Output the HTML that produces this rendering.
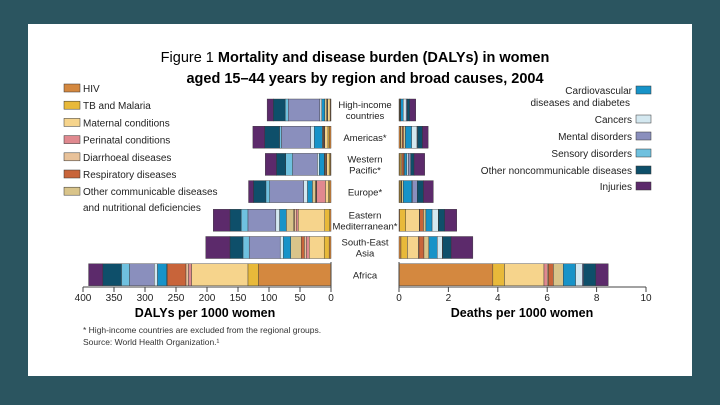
<!DOCTYPE html><html><head><meta charset="utf-8"><style>
body{margin:0;background:#2b5560;width:720px;height:405px;overflow:hidden;font-family:"Liberation Sans",sans-serif}
svg{position:absolute;left:0;top:0}
</style></head><body>
<svg width="720" height="405">
<rect x="28" y="24" width="664" height="352" fill="#fff"/>
<text x="355" y="62" text-anchor="middle" font-size="14.5" font-family="Liberation Sans">Figure 1 <tspan font-weight="bold">Mortality and disease burden (DALYs) in women</tspan></text>
<text x="365" y="83" text-anchor="middle" font-size="14.5" font-weight="bold">aged 15–44 years by region and broad causes, 2004</text>
<g id="leg"></g><g id="bars"></g><g id="axes"></g>
<text x="205" y="317" text-anchor="middle" font-size="12.5" font-weight="bold">DALYs per 1000 women</text>
<text x="522" y="317" text-anchor="middle" font-size="12.5" font-weight="bold">Deaths per 1000 women</text>
<text x="83" y="333" font-size="8.5" fill="#333">* High-income countries are excluded from the regional groups.</text>
<text x="83" y="345" font-size="8.5" fill="#333">Source: World Health Organization.¹</text>
</svg>
<script>
const causes=["HIV","TB and Malaria","Maternal conditions","Perinatal conditions","Diarrhoeal diseases","Respiratory diseases","Other communicable diseases","Cardiovascular diseases and diabetes","Cancers","Mental disorders","Sensory disorders","Other noncommunicable diseases","Injuries"];
const colors=["#d4883f","#e8b93a","#f6d48c","#e0898f","#e8c29a","#c8643a","#d9c48a","#1793c8","#d4e8f0","#8a8fbd","#6fc1df","#0e4f6a","#5c2a6b"];
const regions=[["High-income","countries"],["Americas*"],["Western","Pacific*"],["Europe*"],["Eastern","Mediterranean*"],["South-East","Asia"],["Africa"]];
const dalys=[
[1,0.5,4,0.5,0.5,0.5,3,5,3,51,5,19,10],
[3,2,5,1,1,1,1,13,6,47,3,24,19],
[1,2,4,1,1,1,1,8,3,40,11,15,18],
[2,2,5,14,1,1,5,8,6,55,6,20,8],
[2,8,43,3,3,1,12,11,6,45,11,18,27],
[3,8,24,5,3,5,17,12,5,50,10,21,39],
[117,17,91,5,4,30,1,15,5,40,13,30,23]];
const deaths=[
[0.02,0.01,0.02,0,0,0,0.02,0.1,0.12,0.04,0,0.1,0.25],
[0.05,0.03,0.05,0,0,0.05,0.08,0.25,0.22,0.02,0,0.2,0.23],
[0.02,0.06,0.04,0,0,0.07,0.03,0.1,0.06,0.1,0,0.13,0.43],
[0.02,0.05,0.02,0,0,0.02,0.06,0.35,0.02,0.2,0,0.25,0.4],
[0.03,0.24,0.55,0.02,0,0.15,0.1,0.25,0.25,0.01,0,0.25,0.49],
[0.08,0.26,0.45,0.02,0,0.2,0.2,0.34,0.2,0.02,0,0.34,0.88],
[3.8,0.47,1.6,0.13,0.05,0.2,0.4,0.5,0.27,0.05,0,0.5,0.5]];
const dTicks=[400,350,300,250,200,150,100,50,0];
const mTicks=[0,2,4,6,8,10];
const NS="http://www.w3.org/2000/svg";
function mk(t,a,p){const e=document.createElementNS(NS,t);for(const k in a)e.setAttribute(k,a[k]);p.appendChild(e);return e;}
const xL=v=>331-v*0.62, xR=v=>399+v*24.7, yRow=i=>99+i*27.2+(i>3?1.5:0);
const bars=document.getElementById('bars'),axes=document.getElementById('axes'),leg=document.getElementById('leg');
regions.forEach((r,i)=>{const y=yRow(i);let cl=0,cr=0;
 causes.forEach((c,j)=>{const v=dalys[i][j];if(v>0){const e=mk('rect',{x:xL(cl+v),y:y,width:v*0.62,height:22,fill:colors[j],stroke:'#333','stroke-width':0.4},bars);
 
 }cl+=v;
 const w=deaths[i][j];if(w>0){const e2=mk('rect',{x:xR(cr),y:y,width:w*24.7,height:22,fill:colors[j],stroke:'#333','stroke-width':0.4},bars);
 
 }cr+=w;});
 const t=mk('text',{x:365,y:y+(r.length>1?9:15),'text-anchor':'middle','font-size':9.5,fill:'#222'},bars);
 
 
 r.forEach((s,k)=>{const ts=mk('tspan',{x:365,dy:k?11:0},t);ts.textContent=s;});});
mk('line',{x1:xL(400),x2:xL(0),y1:287,y2:287,stroke:'#444'},axes);
mk('line',{x1:xR(0),x2:xR(10),y1:287,y2:287,stroke:'#444'},axes);
dTicks.forEach(v=>{mk('line',{x1:xL(v),x2:xL(v),y1:287,y2:292,stroke:'#444'},axes);const t=mk('text',{x:xL(v),y:301,'text-anchor':'middle','font-size':10,fill:'#222'},axes);t.textContent=v;
 
 });
mk('line',{x1:xL(0),x2:xL(0),y1:262,y2:292,stroke:'#444'},axes);
mk('line',{x1:xR(0),x2:xR(0),y1:262,y2:292,stroke:'#444'},axes);
mTicks.forEach(v=>{mk('line',{x1:xR(v),x2:xR(v),y1:287,y2:292,stroke:'#444'},axes);const t=mk('text',{x:xR(v),y:301,'text-anchor':'middle','font-size':10,fill:'#222'},axes);t.textContent=v;
 
 });
const lLab=["HIV","TB and Malaria","Maternal conditions","Perinatal conditions","Diarrhoeal diseases","Respiratory diseases","Other communicable diseases"];
lLab.forEach((s,j)=>{const y=84+j*17.2;mk('rect',{x:64,y:y,width:16,height:8,fill:colors[j],stroke:'#333','stroke-width':0.5},leg);
 const t=mk('text',{x:83,y:y+8,'font-size':10,fill:'#222'},leg);t.textContent=s;
 
 });
{const t=mk('text',{x:83,y:211,'font-size':10,fill:'#222'},leg);t.textContent="and nutritional deficiencies";}
const rLab=[["Cardiovascular","diseases and diabetes"],["Cancers"],["Mental disorders"],["Sensory disorders"],["Other noncommunicable diseases"],["Injuries"]];
const rY=[86,115,132,149,166,182];
rLab.forEach((s,k)=>{const y=rY[k];mk('rect',{x:636,y:y,width:15,height:8,fill:colors[7+k],stroke:'#333','stroke-width':0.5},leg);
 const t=mk('text',{x:632,y:y+8,'text-anchor':'end','font-size':10,fill:'#222'},leg);t.textContent=s[0];
 
 
 if(s[1]){const t2=mk('text',{x:630,y:y+20,'text-anchor':'end','font-size':10,fill:'#222'},leg);t2.textContent=s[1];}});
</script></body></html>
